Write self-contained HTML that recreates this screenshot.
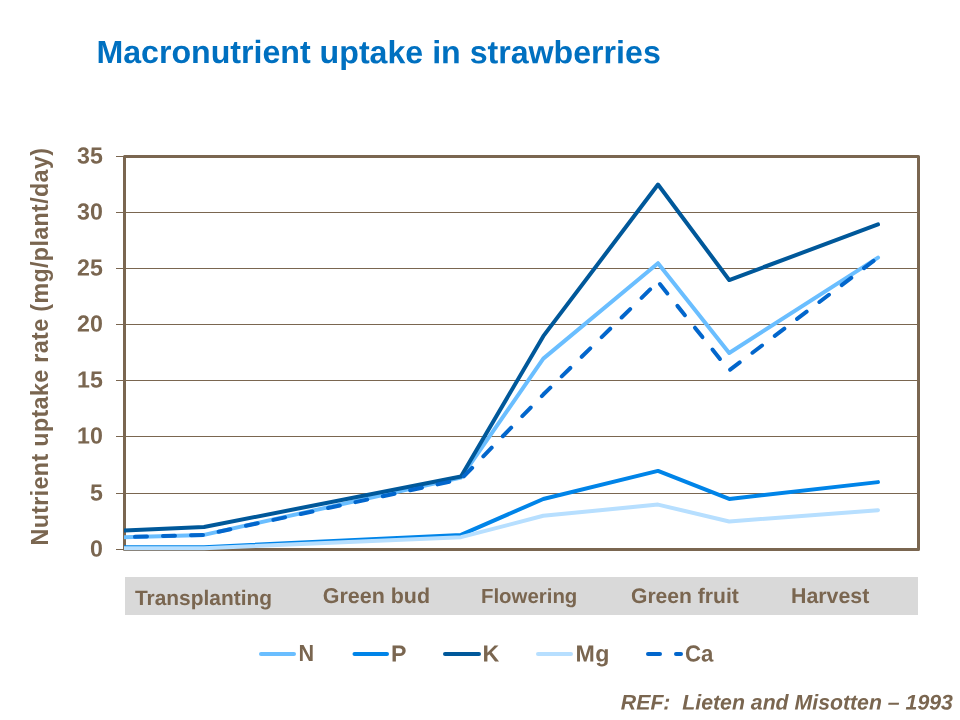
<!DOCTYPE html>
<html><head><meta charset="utf-8"><title>Macronutrient uptake in strawberries</title>
<style>
html,body{margin:0;padding:0;background:#fff;}
body{width:960px;height:720px;overflow:hidden;font-family:"Liberation Sans",sans-serif;}
svg{display:block;will-change:transform;}
text{font-family:"Liberation Sans",sans-serif;font-weight:bold;}
</style></head><body>
<svg width="960" height="720" viewBox="0 0 960 720">
<rect x="0" y="0" width="960" height="720" fill="#ffffff"/>

<text transform="translate(96.4,63) rotate(0.03)" font-size="32.15" text-anchor="start" fill="#0070c0" >Macronutrient uptake in strawberries</text>
<line x1="116" y1="549.5" x2="918.5" y2="549.5" stroke="#7a6650" stroke-width="1"/>
<line x1="116" y1="493.5" x2="918.5" y2="493.5" stroke="#7a6650" stroke-width="1"/>
<line x1="116" y1="436.5" x2="918.5" y2="436.5" stroke="#7a6650" stroke-width="1"/>
<line x1="116" y1="380.5" x2="918.5" y2="380.5" stroke="#7a6650" stroke-width="1"/>
<line x1="116" y1="324.5" x2="918.5" y2="324.5" stroke="#7a6650" stroke-width="1"/>
<line x1="116" y1="268.5" x2="918.5" y2="268.5" stroke="#7a6650" stroke-width="1"/>
<line x1="116" y1="212.5" x2="918.5" y2="212.5" stroke="#7a6650" stroke-width="1"/>
<line x1="116" y1="156.5" x2="918.5" y2="156.5" stroke="#7a6650" stroke-width="1"/>
<rect x="124.5" y="156.5" width="794" height="393" fill="none" stroke="#7a6650" stroke-width="3" stroke-linejoin="round"/>
<clipPath id="pc"><rect x="124" y="150" width="800" height="410"/></clipPath>
<g clip-path="url(#pc)" fill="none" stroke-linecap="round" stroke-linejoin="round">
<polyline points="124.5,537.15 204,534.9 461,477.64 543.3,358.61 658,263.17 729.2,353.0 878,257.56" stroke="#6abeff" stroke-width="4"/>
<polyline points="124.5,547.25 204,547.25 461,534.9 543.3,498.97 658,470.9 729.2,498.97 878,482.13" stroke="#0084e8" stroke-width="4"/>
<polyline points="124.5,530.41 204,527.04 461,476.51 543.3,336.16 658,184.57 729.2,280.01 878,224.43" stroke="#00589a" stroke-width="4"/>
<polyline points="124.5,548.26 204,548.26 461,537.15 543.3,515.81 658,504.59 729.2,521.43 878,510.2" stroke="#b7dfff" stroke-width="4"/>
<polyline points="124.5,537.15 204,534.9 461,479.32 543.3,394.55 658,281.7" stroke="#0266cc" stroke-width="4" stroke-dasharray="12 16" stroke-dashoffset="17.5"/>
<polyline points="658,281.7 729.2,370.4" stroke="#0266cc" stroke-width="4" stroke-dasharray="12 16" stroke-dashoffset="25"/>
<polyline points="729.2,370.4 878,257.56" stroke="#0266cc" stroke-width="4" stroke-dasharray="12 16" stroke-dashoffset="26.8"/>
</g>
<text transform="translate(102.8,556.55) rotate(0.03)" font-size="23.2" text-anchor="end" fill="#7a6650" >0</text>
<text transform="translate(102.8,500.55) rotate(0.03)" font-size="23.2" text-anchor="end" fill="#7a6650" >5</text>
<text transform="translate(102.8,443.55) rotate(0.03)" font-size="23.2" text-anchor="end" fill="#7a6650" >10</text>
<text transform="translate(102.8,387.55) rotate(0.03)" font-size="23.2" text-anchor="end" fill="#7a6650" >15</text>
<text transform="translate(102.8,331.55) rotate(0.03)" font-size="23.2" text-anchor="end" fill="#7a6650" >20</text>
<text transform="translate(102.8,275.55) rotate(0.03)" font-size="23.2" text-anchor="end" fill="#7a6650" >25</text>
<text transform="translate(102.8,219.55) rotate(0.03)" font-size="23.2" text-anchor="end" fill="#7a6650" >30</text>
<text transform="translate(102.8,163.55) rotate(0.03)" font-size="23.2" text-anchor="end" fill="#7a6650" >35</text>
<text transform="translate(48,545.5) rotate(-90)" font-size="23.3" textLength="397.5" lengthAdjust="spacing" fill="#7a6650">Nutrient uptake rate (mg/plant/day)</text>
<rect x="125" y="577" width="793" height="38" fill="#d9d9d9"/>
<text transform="translate(135,605) rotate(0.03)" font-size="20.9" text-anchor="start" fill="#7a6650" >Transplanting</text>
<text transform="translate(322.8,603.0) rotate(0.03)" font-size="21.45" text-anchor="start" fill="#7a6650" >Green bud</text>
<text transform="translate(481,603) rotate(0.03)" font-size="20.4" text-anchor="start" fill="#7a6650" >Flowering</text>
<text transform="translate(631,603.0) rotate(0.03)" font-size="21.1" text-anchor="start" fill="#7a6650" >Green fruit</text>
<text transform="translate(791,602.9) rotate(0.03)" font-size="21.33" text-anchor="start" fill="#7a6650" >Harvest</text>
<g stroke-linecap="round" fill="none">
<line x1="261" y1="654" x2="294" y2="654" stroke="#6abeff" stroke-width="4"/>
<line x1="354.5" y1="654" x2="387" y2="654" stroke="#0084e8" stroke-width="4"/>
<line x1="445" y1="654" x2="479" y2="654" stroke="#00589a" stroke-width="4"/>
<line x1="538" y1="654" x2="571" y2="654" stroke="#b7dfff" stroke-width="4"/>
<line x1="648" y1="654" x2="681" y2="654" stroke="#0266cc" stroke-width="4" stroke-dasharray="12 16"/>
</g>
<text transform="translate(298.5,661.4) rotate(0.03)" font-size="23.2" text-anchor="start" fill="#7a6650" textLength="15.6" lengthAdjust="spacingAndGlyphs">N</text>
<text transform="translate(391.0,661.4) rotate(0.03)" font-size="23.2" text-anchor="start" fill="#7a6650" >P</text>
<text transform="translate(482.5,661.4) rotate(0.03)" font-size="23.2" text-anchor="start" fill="#7a6650" >K</text>
<text transform="translate(575.6,661.4) rotate(0.03)" font-size="23.2" text-anchor="start" fill="#7a6650" textLength="33.9" lengthAdjust="spacing">Mg</text>
<text transform="translate(685,661.4) rotate(0.03)" font-size="23.2" text-anchor="start" fill="#7a6650" textLength="28.4" lengthAdjust="spacingAndGlyphs">Ca</text>
<text transform="translate(952.9,709.6) rotate(0.03)" font-size="21.28" text-anchor="end" fill="#7a6650" font-style="italic" xml:space="preserve">REF:  Lieten and Misotten – 1993</text>
</svg></body></html>
